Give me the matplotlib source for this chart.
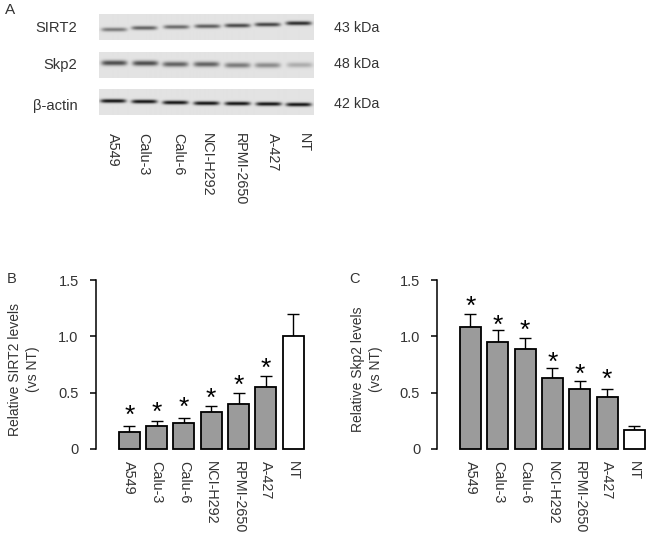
#!/usr/bin/env python3

import numpy as np
import matplotlib
matplotlib.use( 'Agg' )
import matplotlib.pyplot as plt

plt.rcParams['font.family'] = [ 'Liberation Sans', 'DejaVu Sans' ]

cellLines = [ 'A549', 'Calu-3', 'Calu-6', 'NCI-H292', 'RPMI-2650', 'A-427', 'NT' ]

sirt2Values = [ 0.15, 0.20, 0.23, 0.33, 0.40, 0.55, 1.00 ]
sirt2Errors = [ 0.05, 0.045, 0.045, 0.05, 0.10, 0.10, 0.20 ]
sirt2Stars = [ 0.33, 0.36, 0.405, 0.485, 0.60, 0.75 ]
skp2Values = [ 1.085, 0.95, 0.885, 0.63, 0.53, 0.465, 0.165 ]
skp2Errors = [ 0.115, 0.105, 0.10, 0.09, 0.07, 0.07, 0.035 ]
skp2Stars = [ 1.30, 1.13, 1.09, 0.80, 0.70, 0.65 ]

# western blot lanes, in pixels of the figure, darkness is 0..1
sirt2BandX = [ 114, 144, 176, 207, 237, 267, 298 ]
sirt2BandY = [ 29.3, 27.7, 26.7, 26, 25.3, 24.3, 23 ]
sirt2BandDark = [ 0.50, 0.62, 0.58, 0.64, 0.74, 0.76, 0.88 ]
skp2BandX = [ 114, 145, 175, 206, 237, 267, 299 ]
skp2BandY = [ 62.7, 63, 64, 64, 65, 65, 64.7 ]
skp2BandDark = [ 0.72, 0.72, 0.62, 0.62, 0.50, 0.42, 0.26 ]
actinBandX = [ 113, 144, 175, 206, 237, 268, 298 ]
actinBandY = [ 100.7, 101.3, 102.3, 103, 103.3, 103.7, 104.3 ]
actinBandDark = [ 1.0, 1.0, 1.0, 1.0, 1.0, 1.0, 1.0 ]

TEXT_COLOR = '#333333'
FIG_W, FIG_H = 648, 536


def drawBlot( ax, top, bottom, bandX, bandY, bandDark, thickness ):
    left, right = 99, 313.5
    xs = np.arange( left, right, 0.5 )
    ys = np.arange( top, bottom, 0.5 )
    gridX, gridY = np.meshgrid( xs, ys )
    image = np.full( gridX.shape, 0.89 )
    for x, y, dark in zip( bandX, bandY, bandDark ):
        alongX = np.exp( -( ( gridX - x ) / 12.8 )**6 )
        alongY = np.exp( -( ( gridY - y ) / thickness )**2 )
        image -= 0.82 * dark * alongX * alongY
    ax.imshow( np.clip( image, 0, 1 ), cmap = 'gray', vmin = 0, vmax = 1, aspect = 'auto',
               extent = ( left, right, bottom, top ), interpolation = 'bilinear', zorder = 1 )


def drawBars( fig, spineX, firstBarX, values, errors, stars, ylabel, labelX ):
    spacing = 27.3
    top, bottom = 280, 449
    right = spineX + 222
    ax = fig.add_axes( [ spineX / FIG_W, 1 - bottom / FIG_H, ( right - spineX ) / FIG_W, ( bottom - top ) / FIG_H ] )
    ax.patch.set_alpha( 0 )
    xs = np.arange( len( values ) )
    colors = [ '#9b9b9b' ] * ( len( values ) - 1 ) + [ 'white' ]
    ax.bar( xs, values, width = 21 / spacing, color = colors, edgecolor = 'black', linewidth = 1.3,
            clip_on = False, zorder = 3 )
    ax.errorbar( xs, values, yerr = [ np.zeros( len( values ) ), errors ], fmt = 'none', ecolor = 'black',
                 elinewidth = 1.0, capsize = 4, capthick = 1.0, zorder = 2 )
    # the glyph sits high in its box, so pull it down onto the read height
    for x, star in zip( xs, stars ):
        ax.annotate( '*', ( x, star ), xytext = ( 0, -11.8 ), textcoords = 'offset points',
                     ha = 'center', va = 'bottom', fontsize = 19, color = 'black' )

    ax.set_xlim( ( spineX - firstBarX ) / spacing, ( right - firstBarX ) / spacing )
    ax.set_ylim( 0, 1.5 )
    ax.set_yticks( [ 0, 0.5, 1.0, 1.5 ], [ '0', '0.5', '1.0', '1.5' ] )
    ax.set_xticks( xs, cellLines, rotation = -90 )
    ax.tick_params( axis = 'y', length = 4.5, width = 1.1, direction = 'out', labelsize = 10.5,
                    labelcolor = TEXT_COLOR, pad = 8 )
    ax.tick_params( axis = 'x', length = 0, labelsize = 10.4, labelcolor = TEXT_COLOR, pad = 8.5 )
    for side in [ 'top', 'right', 'bottom' ]:
        ax.spines[side].set_visible( False )
    ax.spines['left'].set_linewidth( 1.1 )
    ax.text( ( labelX - spineX ) / ( right - spineX ), ( bottom - 369.5 ) / ( bottom - top ), ylabel,
             transform = ax.transAxes, rotation = 90, ha = 'center', va = 'center', fontsize = 10,
             color = TEXT_COLOR, linespacing = 1.45 )
    return ax


fig = plt.figure( figsize = ( FIG_W / 100, FIG_H / 100 ), dpi = 100 )

canvas = fig.add_axes( [ 0, 0, 1, 1 ] )
canvas.axis( 'off' )

drawBlot( canvas, 14, 40, sirt2BandX, sirt2BandY, sirt2BandDark, 2.0 )
drawBlot( canvas, 52, 78, skp2BandX, skp2BandY, skp2BandDark, 2.6 )
drawBlot( canvas, 89, 115, actinBandX, actinBandY, actinBandDark, 1.9 )
canvas.set_xlim( 0, FIG_W )
canvas.set_ylim( FIG_H, 0 )

for label, y in [ ( 'SIRT2', 27.5 ), ( 'Skp2', 64.5 ), ( 'β-actin', 106 ) ]:
    canvas.text( 77.5, y, label, ha = 'right', va = 'center', fontsize = 10.6, color = TEXT_COLOR )
for text, y in [ ( '43 kDa', 27.5 ), ( '48 kDa', 64.5 ), ( '42 kDa', 103.5 ) ]:
    canvas.text( 334, y, text, ha = 'left', va = 'center', fontsize = 10.3, color = TEXT_COLOR )

for name, x in zip( cellLines, [ 113, 143, 178, 207, 240, 273, 304 ] ):
    canvas.text( x, 133, name, rotation = -90, ha = 'center', va = 'top', fontsize = 10.4, color = TEXT_COLOR )

canvas.text( 5, 10, 'A', ha = 'left', va = 'center', fontsize = 11, color = TEXT_COLOR )
canvas.text( 7, 279, 'B', ha = 'left', va = 'center', fontsize = 10.5, color = TEXT_COLOR )
canvas.text( 349, 279, 'C', ha = 'left', va = 'center', fontsize = 10.5, color = TEXT_COLOR )

drawBars( fig, 96, 129.3, sirt2Values, sirt2Errors, sirt2Stars, 'Relative SIRT2 levels\n(vs NT)', 24 )
drawBars( fig, 437.5, 470.5, skp2Values, skp2Errors, skp2Stars, 'Relative Skp2 levels\n(vs NT)', 367 )

fig.savefig( 'out.png', dpi = 100 )
